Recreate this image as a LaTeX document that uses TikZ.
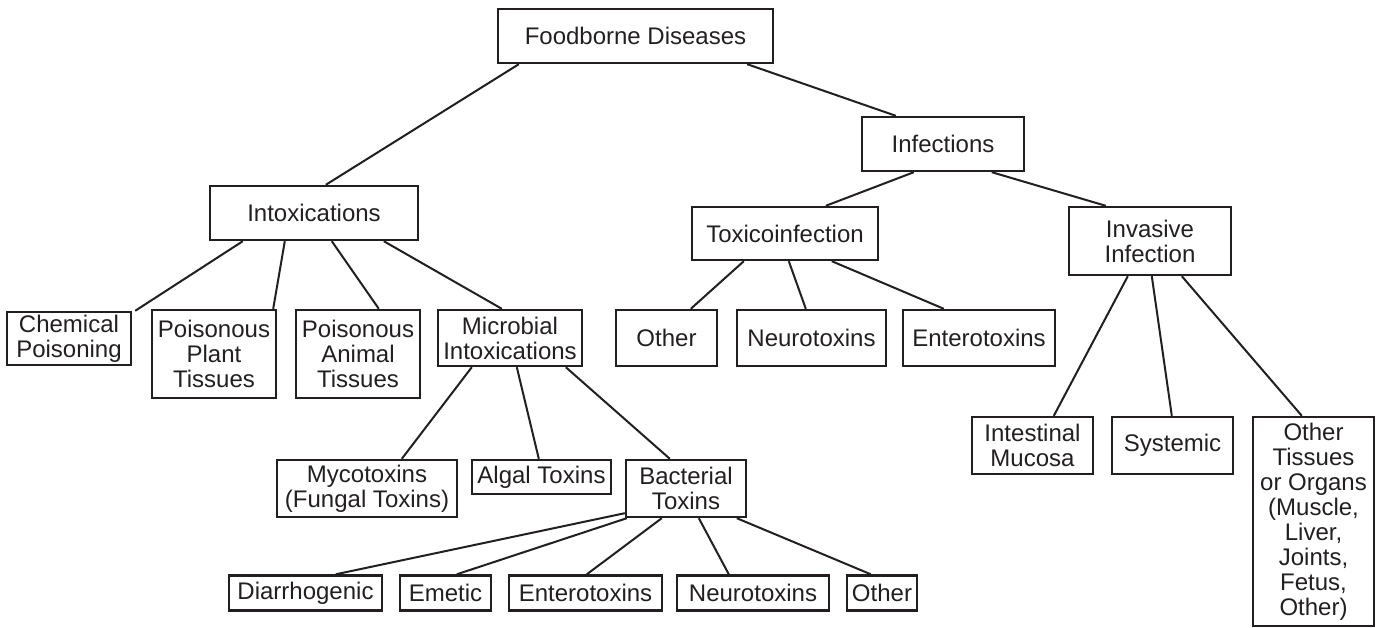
\documentclass[tikz,border=0pt]{standalone}
\usepackage{fontspec}
\setmainfont{Liberation Sans}
\definecolor{ink}{HTML}{231F20}

\begin{document}
\begin{tikzpicture}[x=1pt,y=-1pt,ink,
    box/.style={draw,line width=2.4pt,align=center,inner sep=0pt,text=ink,
                font=\fontsize{24}{25}\selectfont},
    link/.style={line width=2pt}]
\useasboundingbox (0,0) rectangle (1379,628);

% top levels
\node[box, minimum width=275, minimum height=54] (food) at (635.5,36) {Foodborne Diseases};
\node[box, minimum width=162, minimum height=54] (infect) at (943,144) {Infections};
\node[box, minimum width=208, minimum height=54] (intox) at (314,213) {Intoxications};
\node[box, minimum width=186, minimum height=53] (toxico) at (785,233.5) {Toxicoinfection};
\node[box, minimum width=162, minimum height=68] (invasive) at (1150,241) {Invasive\\Infection};

% intoxications
\node[box, minimum width=124, minimum height=53] (chem) at (69,338.5) {Chemical\\Poisoning};
\node[box, minimum width=124, minimum height=88] (plant) at (214,354) {Poisonous\\Plant\\Tissues};
\node[box, minimum width=124, minimum height=88] (animal) at (358,354) {Poisonous\\Animal\\Tissues};
\node[box, minimum width=144, minimum height=56] (microbial) at (510,338) {Microbial\\Intoxications};

% toxicoinfection
\node[box, minimum width=101, minimum height=56] (tOther) at (666.5,338) {Other};
\node[box, minimum width=149, minimum height=56] (tNeuro) at (811.5,338) {Neurotoxins};
\node[box, minimum width=152, minimum height=56] (tEntero) at (979,338) {Enterotoxins};

% invasive infection
\node[box, minimum width=121, minimum height=57] (intest) at (1032.5,445.5) {Intestinal\\Mucosa};
\node[box, minimum width=121, minimum height=57] (systemic) at (1172.5,445.5) {Systemic};
\node[box, minimum width=121, minimum height=209] (otherTis) at (1313.5,521.5)
    {Other\\Tissues\\or Organs\\(Muscle,\\Liver,\\Joints,\\Fetus,\\Other)};

% microbial intoxications
\node[box, minimum width=180, minimum height=57] (myco) at (367,488.5) {Mycotoxins\\(Fungal Toxins)};
\node[box, minimum width=139, minimum height=34] (algal) at (541.5,477) {Algal Toxins};
\node[box, minimum width=120, minimum height=57] (bact) at (686,488.5) {Bacterial\\Toxins};

% bacterial toxins
\node[box, minimum width=153, minimum height=35] (diarr) at (305.5,593) {Diarrhogenic};
\node[box, minimum width=91, minimum height=35] (emetic) at (445.5,593) {Emetic};
\node[box, minimum width=153, minimum height=35] (bEntero) at (585.5,593) {Enterotoxins};
\node[box, minimum width=152, minimum height=35] (bNeuro) at (753,593) {Neurotoxins};
\node[box, minimum width=70, minimum height=35] (bOther) at (882,593) {Other};

% connectors
\draw[link] ([xshift=22]food.south west) -- ([xshift=117]intox.north west);
\draw[link] ([xshift=-27]food.south east) -- ([xshift=35]infect.north west);
\draw[link] ([xshift=53]infect.south west) -- ([xshift=135]toxico.north west);
\draw[link] ([xshift=131]infect.south west) -- ([xshift=38]invasive.north west);

\draw[link] ([xshift=34]intox.south west) -- ([xshift=3]chem.north east);
\draw[link] ([xshift=76]intox.south west) -- ([xshift=-4]plant.north east);
\draw[link] ([xshift=123]intox.south west) -- ([xshift=84]animal.north west);
\draw[link] ([xshift=175]intox.south west) -- ([xshift=65]microbial.north west);

\draw[link] ([xshift=53]toxico.south west) -- ([xshift=76]tOther.north west);
\draw[link] ([xshift=98]toxico.south west) -- ([xshift=70]tNeuro.north west);
\draw[link] ([xshift=141]toxico.south west) -- ([xshift=42]tEntero.north west);

\draw[link] ([xshift=60]invasive.south west) -- ([xshift=83]intest.north west);
\draw[link] ([xshift=84]invasive.south west) -- ([xshift=61]systemic.north west);
\draw[link] ([xshift=114]invasive.south west) -- ([xshift=50]otherTis.north west);

\draw[link] ([xshift=35]microbial.south west) -- ([xshift=126]myco.north west);
\draw[link] ([xshift=80]microbial.south west) -- ([xshift=68]algal.north west);
\draw[link] ([xshift=129]microbial.south west) -- ([xshift=45]bact.north west);

\draw[link] ([yshift=5]bact.south west) -- ([xshift=108]diarr.north west);
\draw[link] ([xshift=2]bact.south west) -- ([xshift=58]emetic.north west);
\draw[link] ([xshift=37]bact.south west) -- ([xshift=79]bEntero.north west);
\draw[link] ([xshift=74]bact.south west) -- ([xshift=53]bNeuro.north west);
\draw[link] ([xshift=112]bact.south west) -- ([xshift=25]bOther.north west);
\end{tikzpicture}
\end{document}
